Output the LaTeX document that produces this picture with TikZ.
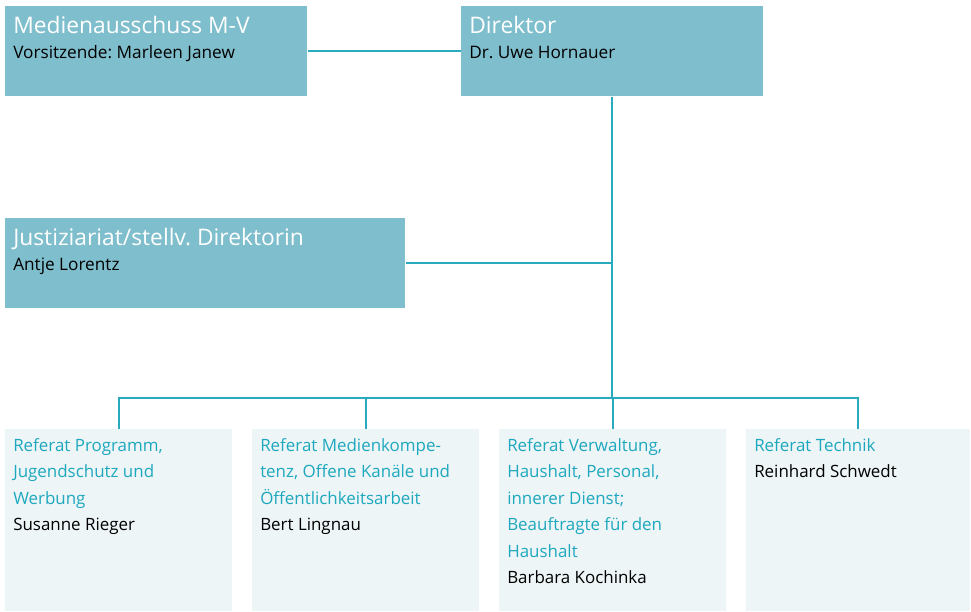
\documentclass[tikz,border=0pt]{standalone}
\usepackage{fontspec}
\setmainfont{Open Sans}
\frenchspacing
\usetikzlibrary{positioning}

\definecolor{boxblue}{RGB}{127,190,205}
\definecolor{boxpale}{RGB}{237,245,247}
\definecolor{linkblue}{RGB}{42,170,190}
\definecolor{headteal}{RGB}{30,168,190}

% box content: width, height, heading, name
\newcommand{\leadtext}[4]{%
  \parbox[c][#2][t]{#1}{%
    {\fontsize{17.1}{20}\selectfont\color{white}\rule{0pt}{20.25pt}#3\par}%
    {\fontsize{12.9}{18.75}\selectfont\color{black}#4\par}}}
\newcommand{\unittext}[3]{%
  \parbox[c][136.5pt][t]{#1}{%
    \fontsize{12.7}{19.9}\selectfont
    {\color{headteal}\rule{0pt}{16.5pt}#2\par}%
    {\color{black}#3\par}}}

\tikzset{
  leadbox/.style={fill=boxblue, inner xsep=6pt, inner ysep=0pt, anchor=north west},
  unitbox/.style={fill=boxpale, inner xsep=6pt, inner ysep=0pt, anchor=north west},
  link/.style={draw=linkblue, line width=1.3pt}
}

\begin{document}
\begin{tikzpicture}[x=0.75pt, y=-0.75pt]
  \useasboundingbox (0,0) rectangle (971,611);

  % top row
  \node[leadbox] (mav) at (5,6)
    {\leadtext{214.5pt}{67.5pt}{Medienausschuss M-V}{Vorsitzende: Marleen Janew}};
  \node[leadbox] (dir) at (461,6)
    {\leadtext{214.5pt}{67.5pt}{Direktor}{Dr. Uwe Hornauer}};
  \node[leadbox] (just) at (5,218)
    {\leadtext{288pt}{67.5pt}{Justiziariat/stellv. Direktorin}{Antje Lorentz}};

  % referate
  \node[unitbox] (ref1) at (5,429)
    {\unittext{158.25pt}{Referat Programm,\\Jugendschutz und\\Werbung}{Susanne Rieger}};
  \node[unitbox, right=14.6pt of ref1.north east, anchor=north west] (ref2)
    {\unittext{158.25pt}{Referat Medienkompe-\\tenz, Offene Kanäle und\\Öffentlichkeitsarbeit}{Bert Lingnau}};
  \node[unitbox, right=14.6pt of ref2.north east, anchor=north west] (ref3)
    {\unittext{158.25pt}{Referat Verwaltung,\\Haushalt, Personal,\\innerer Dienst;\\Beauftragte für den\\Haushalt}{Barbara Kochinka}};
  \node[unitbox, right=14.6pt of ref3.north east, anchor=north west] (ref4)
    {\unittext{156pt}{Referat Technik}{Reinhard Schwedt}};

  % connectors
  \coordinate (bus) at (dir.south |- 0,398);
  \coordinate (jmid) at (dir.south |- just.east);
  \draw[link] (mav.east) -- (dir.west);
  \draw[link] (dir.south) -- (bus);
  \draw[link] (just.east) -- (jmid);
  \draw[link] (ref1.north) |- (bus) -| (ref4.north);
  \draw[link] (ref2.north) -- (ref2.north |- bus);
  \draw[link] (ref3.north) -- (ref3.north |- bus);
\end{tikzpicture}
\end{document}
